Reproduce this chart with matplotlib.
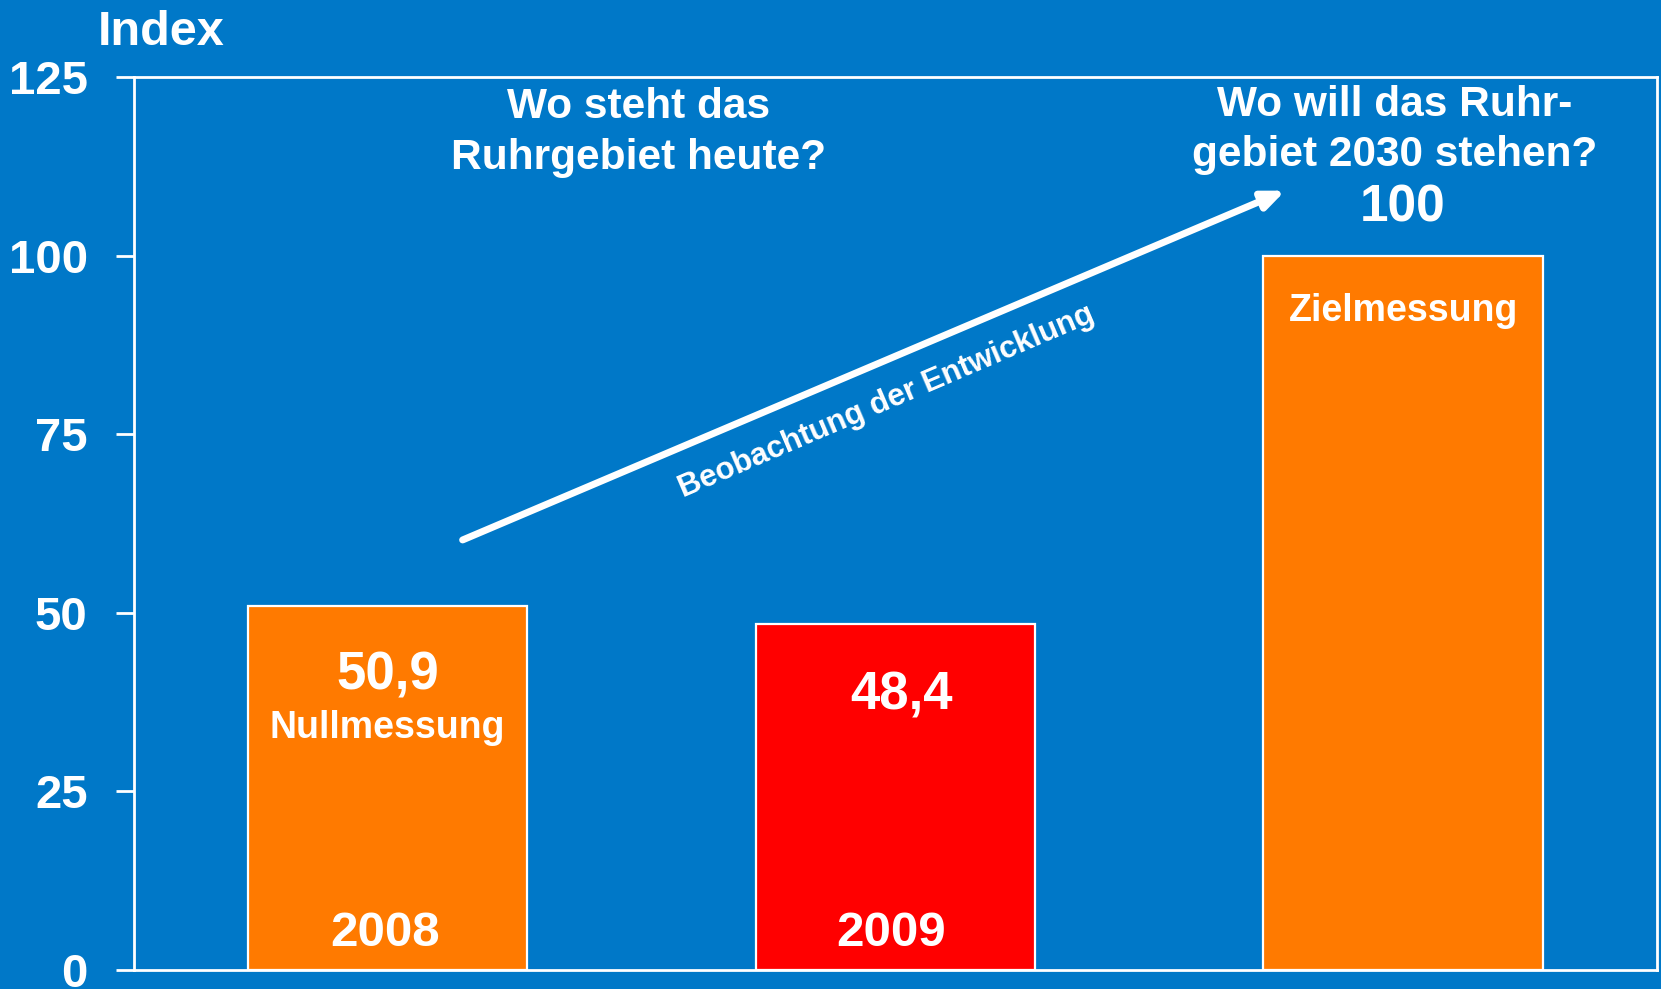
import matplotlib
matplotlib.use("Agg")
import matplotlib.pyplot as plt

plt.rcParams['font.family'] = ['Liberation Sans', 'DejaVu Sans']
plt.rcParams['font.weight'] = 'bold'

years = ["2008", "2009", "2030"]
values = [50.9, 48.4, 100]
value_labels = ["50,9", "48,4", "100"]
bar_colors = ["#FF7A00", "#FF0000", "#FF7A00"]
yticks = [0, 25, 50, 75, 100, 125]

BG = "#0078C8"

fig = plt.figure(figsize=(16.61, 9.89), dpi=100, facecolor=BG)
ax = fig.add_axes([0.0804, 0.0192, 0.9172, 0.9029])
ax.set_facecolor(BG)

x = list(range(len(values)))
ax.bar(x, values, width=0.55, color=bar_colors, edgecolor="white", linewidth=1.6, zorder=2)

ax.set_xlim(-0.5, 2.5)
ax.set_ylim(0, 125)
ax.set_xticks([])
ax.set_yticks(yticks)
ax.set_yticklabels([str(t) for t in yticks], fontsize=34, fontweight='bold', color='white')
ax.tick_params(axis='y', direction='out', length=13, width=2, color='white', pad=20)
for s in ax.spines.values():
    s.set_color('white')
    s.set_linewidth(2)

fig.text(0.059, 1 - 45 / 989, "Index", fontsize=35, fontweight='bold', color='white',
         ha='left', va='baseline')

tkw = dict(color='white', fontweight='bold', ha='center', va='baseline')
# questions
ax.text(0.495, 119.2, "Wo steht das", fontsize=30.5, **tkw)
ax.text(0.495, 112.1, "Ruhrgebiet heute?", fontsize=30.5, **tkw)
ax.text(1.984, 119.5, "Wo will das Ruhr-", fontsize=30.5, **tkw)
ax.text(1.984, 112.5, "gebiet 2030 stehen?", fontsize=30.5, **tkw)

# values and labels
ax.text(x[0], 39.3, value_labels[0], fontsize=38, **tkw)
ax.text(x[0], 32.5, "Nullmessung", fontsize=27, **tkw)
ax.text(x[1] + 0.012, 36.5, value_labels[1], fontsize=38, **tkw)
ax.text(x[2], 104.8, value_labels[2], fontsize=37, **tkw)
ax.text(x[2], 90.9, "Zielmessung", fontsize=27, **tkw)
ax.text(x[0] - 0.004, 3.4, years[0], fontsize=35.5, **tkw)
ax.text(x[1] - 0.008, 3.4, years[1], fontsize=35.5, **tkw)

# arrow
ax.annotate("", xy=(1.768, 109.1), xytext=(0.148, 60.2),
            arrowprops=dict(arrowstyle="-|>,head_length=1.3,head_width=0.55",
                            color='white', lw=5, shrinkA=0, shrinkB=0), zorder=3)
ax.text(0.982, 79.6, "Beobachtung der Entwicklung", fontsize=22.5, color='white',
        fontweight='bold', ha='center', va='center', rotation=23.2, rotation_mode='anchor')

fig.savefig("out.png", dpi=100, facecolor=BG)
